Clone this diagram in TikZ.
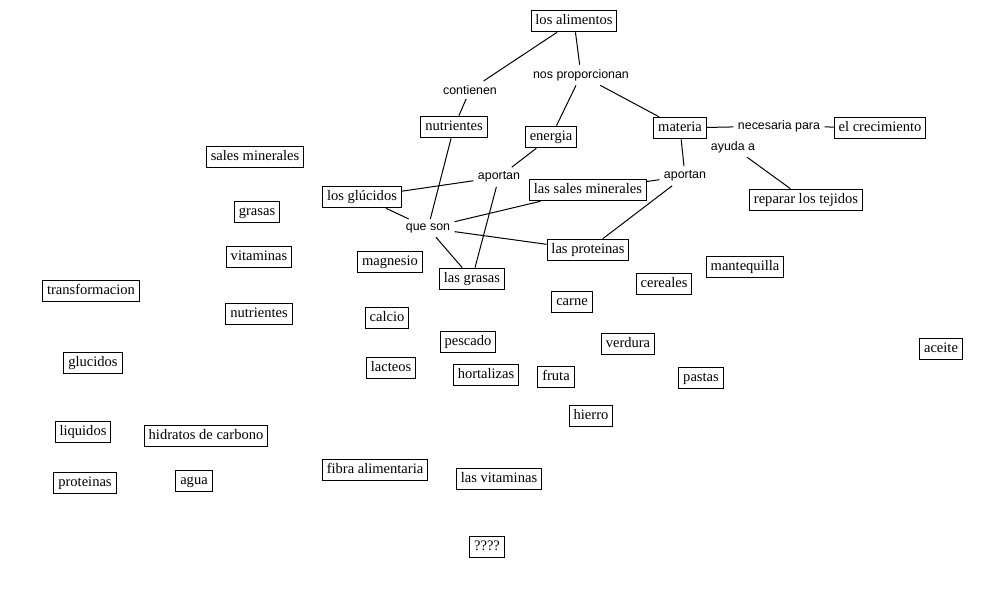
\documentclass[tikz,border=0pt]{standalone}
\usepackage{fontspec}
\setmainfont{Liberation Serif}
\setsansfont{Liberation Sans}
\tikzset{
  concepto/.style={draw,line width=0.75pt,inner xsep=3.3pt,inner ysep=3pt,
    text height=7.6pt,text depth=2.6pt,font=\fontsize{10.9}{12}\selectfont},
  enlace/.style={inner sep=3pt,font=\sffamily\fontsize{9.3}{11}\selectfont},
}
\begin{document}
\begin{tikzpicture}[x=0.75pt,y=-0.75pt,line width=0.75pt]
			\fill[white] (0,0) rectangle (1004,597);
			\useasboundingbox (0,0) rectangle (1004,597);
			% mapa
			\node[concepto] (alimentos) at (574,21) {los alimentos};
			\node[enlace] (contienen) at (470,90) {contienen};
			\node[enlace] (proporcionan) at (581,75) {nos proporcionan};
			\node[concepto] (nutrientes) at (454,127) {nutrientes};
			\node[concepto] (energia) at (551,137) {energia};
			\node[concepto] (materia) at (680,128) {materia};
			\node[enlace] (necesaria) at (779,126) {necesaria para};
			\node[concepto] (crecimiento) at (880,128) {el crecimiento};
			\node[enlace] (ayuda) at (733,147) {ayuda a};
			\node[concepto] (tejidos) at (806,200) {reparar los tejidos};
			\node[enlace] (aportanR) at (685,176) {aportan};
			\node[enlace] (aportanL) at (499,177) {aportan};
			\node[concepto] (glucidos) at (362,197) {los glúcidos};
			\node[concepto] (sales) at (588,190) {las sales minerales};
			\node[enlace] (queson) at (428,228) {que son};
			\node[concepto] (proteinas) at (588,250) {las proteinas};
			\node[concepto] (grasas) at (472,279) {las grasas};
			\draw (alimentos) -- (contienen);
			\draw (contienen) -- (nutrientes);
			\draw (alimentos) -- (proporcionan);
			\draw (proporcionan) -- (energia);
			\draw (proporcionan) -- (materia);
			\draw (nutrientes) -- (queson);
			\draw (queson) -- (glucidos);
			\draw (queson) -- (sales);
			\draw (queson) -- (proteinas);
			\draw (queson) -- (grasas);
			\draw (energia) -- (aportanL);
			\draw (aportanL) -- (glucidos);
			\draw (aportanL) -- (grasas);
			\draw (materia) -- (aportanR);
			\draw (aportanR) -- (sales);
			\draw (aportanR) -- (proteinas);
			\draw (materia) -- (necesaria);
			\draw (necesaria) -- (crecimiento);
			\draw (materia) -- (ayuda);
			\draw (ayuda) -- (tejidos);
			% conceptos sueltos
			\foreach \Nombre/\X/\Y/\Texto in {salesmin/255/157/sales minerales,
				grasasB/257/212/grasas, vitaminas/259/257/vitaminas,
				transformacion/91/291/transformacion, nutrientesB/259/314/nutrientes,
				glucidosB/93/363/glucidos, liquidos/83/432/liquidos,
				hidratos/206/436/hidratos de carbono, proteinasB/85/483/proteinas,
				agua/194/481/agua, magnesio/390/262/magnesio, calcio/387/318/calcio,
				lacteos/391/368/lacteos, pescado/468/342/pescado,
				hortalizas/486/375/hortalizas, carne/572/302/carne,
				fruta/556/377/fruta, verdura/628/344/verdura, hierro/591/416/hierro,
				cereales/664/284/cereales, mantequilla/745/267/mantequilla,
				pastas/701/378/pastas, aceite/941/349/aceite,
				fibra/375/470/fibra alimentaria, lasvitaminas/499/479/las vitaminas,
				dudas/487/547/????}
			\node[concepto] (\Nombre) at (\X,\Y) {\Texto};
		\end{tikzpicture}
\end{document}
